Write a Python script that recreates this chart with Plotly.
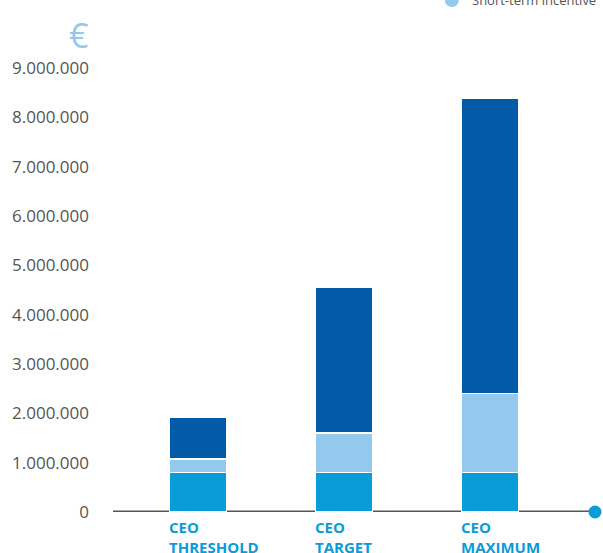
import plotly.graph_objects as go

categories = ["CEO<br>THRESHOLD", "CEO<br>TARGET", "CEO<br>MAXIMUM"]
base_salary = [800000, 800000, 800000]
short_term = [275000, 800000, 1600000]
long_term = [850000, 2960000, 5980000]
tick_vals = [0, 1000000, 2000000, 3000000, 4000000, 5000000, 6000000, 7000000, 8000000, 9000000]

c_base = "#0a9bd9"
c_short = "#93c9ec"
c_long = "#035ba8"

x = list(range(len(categories)))
fig = go.Figure()
for name, vals, col in [("Base salary", base_salary, c_base),
                        ("Short-term incentive", short_term, c_short),
                        ("Long-term incentive", long_term, c_long)]:
    fig.add_trace(go.Bar(x=x, y=vals, name=name, marker=dict(color=col, line=dict(color="white", width=1.5)),
                         width=0.39, showlegend=False))

# axis end dot
fig.add_trace(go.Scatter(x=[2.719], y=[0], mode="markers", marker=dict(color=c_base, size=13),
                         cliponaxis=False, showlegend=False, hoverinfo="skip"))

fig.update_layout(
    barmode="stack",
    width=603, height=553,
    margin=dict(l=113, r=8, t=40, b=41),
    plot_bgcolor="white", paper_bgcolor="white",
    separators=",.",
    xaxis=dict(range=[-0.582, 2.719], showticklabels=False, showgrid=False, zeroline=False, showline=False),
    yaxis=dict(range=[0, 9.57e6], tickvals=tick_vals, tickformat=",d", showgrid=False, zeroline=False,
               showline=False, ticks="", ticklabelstandoff=23,
               tickfont=dict(family="Open Sans", size=17, color="#555555")),
    font=dict(family="Open Sans"),
)

fig.add_shape(type="line", xref="paper", yref="y", x0=0, x1=1, y0=0, y1=0,
              line=dict(color="#555555", width=3), layer="below")

for xi, cat in zip(x, categories):
    fig.add_annotation(x=xi - 0.215, y=0, xref="x", yref="y", text="<b>" + cat + "</b>",
                       showarrow=False, xanchor="left", yanchor="top", yshift=-3, align="left",
                       font=dict(family="Open Sans", size=15, color=c_base))

fig.add_annotation(xref="paper", yref="paper", x=-0.0726, y=1.0106, text="€", showarrow=False,
                   xanchor="center", yanchor="middle",
                   font=dict(family="Open Sans", size=34, color=c_short))

# partially visible legend entry at the top
fig.add_annotation(xref="paper", yref="paper", x=0.7407, y=1.0847, text="Short-term incentive", showarrow=False,
                   xanchor="left", yanchor="middle",
                   font=dict(family="Open Sans", size=13, color="#555555"))
fig.add_shape(type="circle", xref="paper", yref="paper", x0=-7, x1=7, y0=-7, y1=7,
              xsizemode="pixel", ysizemode="pixel", xanchor=0.703, yanchor=1.0847,
              fillcolor=c_short, line=dict(width=0))

fig.write_html("out.html")
